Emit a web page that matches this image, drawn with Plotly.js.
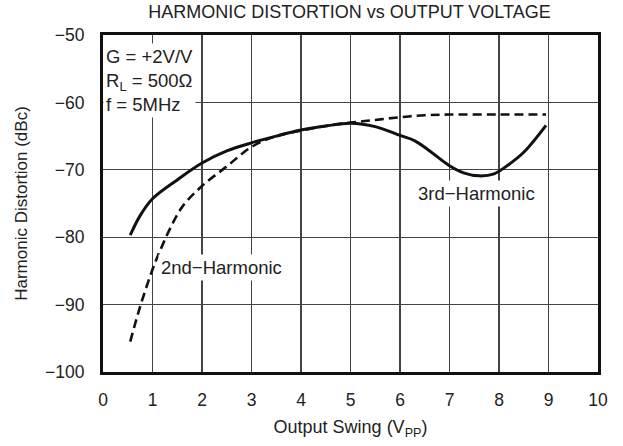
<!DOCTYPE html>
<html>
<head>
<meta charset="utf-8">
<script src="https://cdn.plot.ly/plotly-3.0.1.min.js"></script>
<style>html,body{margin:0;padding:0;background:#fff}#chart{width:623px;height:446px}</style>
</head>
<body>
<div id="chart"></div>
<script>
var secondX = [0.55, 0.75, 1.0, 1.17, 1.35, 1.6, 2.0, 2.5, 3.0, 3.5, 4.0, 4.5, 5.0, 5.5, 6.0, 6.5, 7.0, 8.0, 8.95];
var secondY = [-95.5, -90.3, -84.8, -81.7, -78.8, -75.5, -72.4, -69.5, -66.6, -65.0, -64.2, -63.5, -63.0, -62.6, -62.2, -61.9, -61.8, -61.8, -61.8];
var thirdX = [0.55, 0.75, 1.0, 1.5, 2.0, 2.5, 3.0, 3.5, 4.0, 4.5, 5.0, 5.5, 6.0, 6.3, 6.6, 7.0, 7.3, 7.6, 7.9, 8.2, 8.5, 8.95];
var thirdY = [-79.7, -76.8, -74.3, -71.5, -69.0, -67.2, -66.0, -65.0, -64.1, -63.5, -63.1, -63.6, -64.9, -65.7, -67.2, -69.4, -70.5, -70.9, -70.6, -69.2, -67.4, -63.4];
var xTicks = [0, 1, 2, 3, 4, 5, 6, 7, 8, 9, 10];
var yTicks = [-100, -90, -80, -70, -60, -50];

var fam = 'Liberation Sans, Arial, sans-serif';
var tickFont = {family: fam, size: 17.5, color: '#222'};
var annFont = {family: fam, size: 18.5, color: '#222'};
var traces = [
  {x: thirdX, y: thirdY, mode: 'lines', line: {color: '#111', width: 3, shape: 'spline'}, name: '3rd'},
  {x: secondX, y: secondY, mode: 'lines', line: {color: '#111', width: 2.6, dash: '9px,5px', shape: 'spline'}, name: '2nd'}
];
var layout = {
  width: 623, height: 446,
  margin: {l: 103, r: 24.5, t: 35, b: 74},
  paper_bgcolor: '#fff', plot_bgcolor: '#fff',
  showlegend: false,
  font: tickFont,
  title: {text: 'HARMONIC DISTORTION vs OUTPUT VOLTAGE', font: {family: fam, size: 18, color: '#222'}, x: 0.561, xanchor: 'center', y: 0.973, yanchor: 'middle'},
  xaxis: {
    range: [0, 10], tickvals: xTicks, ticktext: xTicks.map(String),
    showgrid: true, gridcolor: '#444', gridwidth: 1.2,
    showline: true, linecolor: '#111', linewidth: 3, mirror: true,
    zeroline: false, ticks: '', tickfont: tickFont, ticklabelstandoff: 10,
    title: {text: 'Output Swing (V<sub>PP</sub>)', font: {family: fam, size: 18, color: '#222'}, standoff: 12}
  },
  yaxis: {
    range: [-100, -50], tickvals: yTicks,
    showgrid: true, gridcolor: '#444', gridwidth: 1.2,
    showline: true, linecolor: '#111', linewidth: 3, mirror: true,
    zeroline: false, ticks: '', tickfont: tickFont, ticklabelstandoff: 12,
    title: {text: 'Harmonic Distortion (dBc)', font: {family: fam, size: 17, color: '#222'}, standoff: 14}
  },
  annotations: [
    {xref: 'paper', yref: 'paper', x: 0.0, y: 0.976, xanchor: 'left', yanchor: 'top', align: 'left',
     text: 'G = +2V/V<br>R<sub>L</sub> = 500Ω<br>f = 5MHz', showarrow: false, bgcolor: '#fff', font: annFont, borderpad: 2},
    {xref: 'x', yref: 'y', x: 2.39, y: -84.5, text: '2nd−Harmonic', showarrow: false, bgcolor: '#fff', font: annFont, borderpad: 2},
    {xref: 'x', yref: 'y', x: 7.54, y: -73.5, text: '3rd−Harmonic', showarrow: false, bgcolor: '#fff', font: annFont, borderpad: 2}
  ]
};
Plotly.newPlot('chart', traces, layout, {displayModeBar: false, staticPlot: true});
</script>
</body>
</html>
